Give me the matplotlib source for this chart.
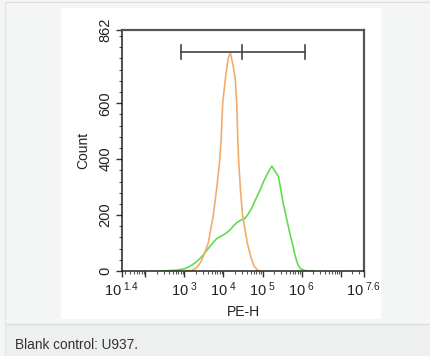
import numpy as np
import matplotlib
matplotlib.use("Agg")
import matplotlib.pyplot as plt
import matplotlib.ticker as ticker
from matplotlib.patches import Rectangle
from matplotlib.lines import Line2D

plt.rcParams['font.family'] = ['Liberation Sans', 'DejaVu Sans']
plt.rcParams['mathtext.fontset'] = 'custom'
plt.rcParams['mathtext.rm'] = 'Liberation Sans'
plt.rcParams['mathtext.it'] = 'Liberation Sans'

# stained sample (green), PE-H as log10 exponent, count
green_log = [2.40, 2.55, 2.80, 3.00, 3.06, 3.20, 3.31, 3.40, 3.48, 3.55, 3.66, 3.74,
             3.83, 3.90, 4.00, 4.08, 4.17, 4.25, 4.34, 4.45, 4.55, 4.64, 4.72, 4.83,
             4.94, 5.02, 5.11, 5.18, 5.24, 5.28, 5.33, 5.41, 5.47, 5.53, 5.62, 5.70,
             5.77, 5.83, 5.90, 5.96, 6.05, 6.13, 6.30]
green_count = [0, 1, 3, 8, 11, 22, 33, 45, 57, 70, 89, 103,
               116, 122, 129, 137, 147, 160, 173, 182, 188, 205, 224, 258,
               290, 318, 343, 362, 375, 365, 355, 337, 290, 242, 185, 135,
               95, 57, 25, 10, 3, 0, 0]

# blank control (orange)
orange_log = [3.05, 3.19, 3.30, 3.40, 3.48, 3.61, 3.74, 3.83, 3.90, 3.94, 3.98, 4.06,
              4.12, 4.175, 4.20, 4.24, 4.30, 4.34, 4.365, 4.39, 4.44, 4.49, 4.61,
              4.70, 4.78, 4.88, 4.95]
orange_count = [0, 2, 10, 28, 50, 100, 200, 300, 390, 470, 600, 700,
                760, 780, 765, 740, 690, 600, 480, 390, 280, 200, 100,
                50, 18, 2, 0]

# gate marker
gate_x = [815, 30000, 1.23e6]
gate_y = 783

x_label_pos = [10**1.4, 1e2, 1e3, 1e4, 1e5, 1e6, 1e7, 10**7.6]
x_labels = [r'$10^{\ 1.4}$', '', r'$10^{\ 3}$', r'$10^{\ 4}$', r'$10^{\ 5}$',
            r'$10^{\ 6}$', '', r'$10^{\ 7.6}$']
y_ticks = [0, 200, 400, 600, 862]

fig = plt.figure(figsize=(4.30, 3.56), dpi=100, facecolor='#f4f5f5')

# page background pieces
fig.patches.append(Rectangle((0.1419, 0.1039), 0.7442, 0.8736, transform=fig.transFigure,
                             facecolor='white', edgecolor='none', zorder=-2))
fig.patches.append(Rectangle((0.0116, 0.0), 0.99, 0.0899, transform=fig.transFigure,
                             facecolor='#eeefef', edgecolor='none', zorder=-2))
fig.lines.append(Line2D([0.0116, 1.0], [0.0899, 0.0899], transform=fig.transFigure,
                        color='#dcdddd', lw=1, zorder=-1))
fig.lines.append(Line2D([0.0116, 1.0], [0.994, 0.994], transform=fig.transFigure,
                        color='#dddddd', lw=1, zorder=-1))
fig.lines.append(Line2D([0.0116, 0.0116], [0.0, 0.994], transform=fig.transFigure,
                        color='#e6e6e6', lw=1, zorder=-1))
fig.text(0.035, 0.031, 'Blank control: U937.', fontsize=9.8, color='#333333', va='center')

ax = fig.add_axes([0.2837, 0.2388, 0.5628, 0.6770])
ax.set_zorder(3)
ax.set_facecolor('white')

ax.plot(10 ** np.array(green_log), green_count, color='#62dc4f', lw=1.2)
ax.plot(10 ** np.array(orange_log), orange_count, color='#f2ad6c', lw=1.2)

# gate bar
ax.plot([gate_x[0], gate_x[2]], [gate_y, gate_y], color='#444444', lw=1.2)
for gx in gate_x:
    ax.plot([gx, gx], [gate_y - 26, gate_y + 26], color='#444444', lw=1.2)

ax.set_xscale('log')
ax.set_xlim(10**1.4, 10**7.6)
ax.set_ylim(0, 862)

ax.xaxis.set_major_locator(ticker.FixedLocator(x_label_pos))
ax.xaxis.set_major_formatter(ticker.FixedFormatter(x_labels))
ax.xaxis.set_minor_locator(ticker.LogLocator(base=10, subs=np.arange(2, 10), numticks=20))
ax.xaxis.set_minor_formatter(ticker.NullFormatter())
for i, t in enumerate(ax.xaxis.get_major_ticks()):
    if i in (0, len(x_label_pos) - 1):
        t.tick1line.set_markersize(0)

ax.set_yticks(y_ticks)
ax.set_yticklabels([str(v) for v in y_ticks], rotation=90, va='center')
ax.yaxis.set_minor_locator(ticker.FixedLocator(np.arange(40, 862, 40)))

ax.tick_params(which='major', length=4, width=1, color='#333333', labelsize=10.5,
               labelcolor='#222222', pad=3)
ax.tick_params(which='minor', length=2, width=0.8, color='#555555')

for side in ['left', 'bottom']:
    ax.spines[side].set_color('#222222')
    ax.spines[side].set_linewidth(1.1)
for side in ['top', 'right']:
    ax.spines[side].set_color('#555555')
    ax.spines[side].set_linewidth(1.6)

ax.set_xlabel('PE-H', fontsize=10, labelpad=4, color='#222222')
ax.set_ylabel('Count', fontsize=10, labelpad=6, color='#222222')

fig.savefig('out.png', dpi=100, facecolor=fig.get_facecolor())
